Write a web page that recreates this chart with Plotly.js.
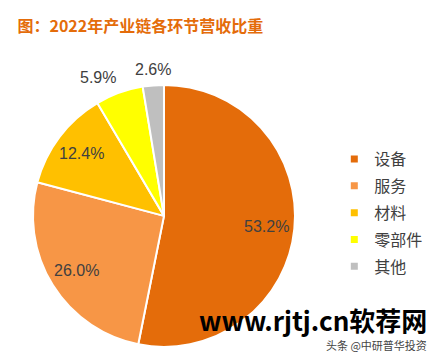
<!DOCTYPE html>
<html>
<head>
<meta charset="utf-8">
<script src="https://cdn.plot.ly/plotly-3.0.1.min.js"></script>
<style>html,body{margin:0;padding:0;background:#fff;}#chart{width:437px;height:358px;}</style>
</head>
<body>
<div id="chart"></div>
<script>
const categories = ["设备", "服务", "材料", "零部件", "其他"];
const shares = [53.2, 26.0, 12.4, 5.9, 2.6];
const colors = ["#E46C0A", "#F79646", "#FFC000", "#FFFF00", "#BFBFBF"];
const labelInside = [true, true, true, false, false];

const W = 437, H = 358;
const domain = {x: [0.0755, 0.675], y: [0.031, 0.763]};
const labelFont = {family: '"Liberation Sans", Arial, sans-serif', size: 16, color: "#404040"};

const pie = {
  type: "pie",
  labels: categories,
  values: shares,
  sort: false,
  direction: "clockwise",
  rotation: 0,
  marker: {colors: colors, line: {color: "#FFFFFF", width: 2}},
  textinfo: "none",
  hoverinfo: "none",
  showlegend: false,
  domain: domain
};

const legendTraces = categories.map((c, i) => ({
  type: "scatter",
  mode: "markers",
  x: [null], y: [null],
  name: c,
  legendgroup: "g" + i,
  marker: {symbol: "square", size: 7, color: colors[i]},
  hoverinfo: "none"
}));

// value labels placed from the data (mid-angle of each slice)
const cx = (domain.x[0] + domain.x[1]) / 2 * W;
const cy = (1 - (domain.y[0] + domain.y[1]) / 2) * H;
const R = Math.min((domain.x[1] - domain.x[0]) * W, (domain.y[1] - domain.y[0]) * H) / 2;
const total = shares.reduce((a, b) => a + b, 0);
let cum = 0;
const valueLabels = shares.map((v, i) => {
  const th = 2 * Math.PI * (cum + v / 2) / total;
  cum += v;
  const s = Math.sin(th), c = Math.cos(th);
  let ann;
  if (labelInside[i]) {
    const r = 0.79 * R;
    ann = {x: (cx + r * s) / W, y: 1 - (cy - r * c) / H, xanchor: "center", yanchor: "middle"};
  } else {
    const r = 1.05 * R;
    ann = {x: (cx + r * s) / W, y: 1 - (cy - r * c) / H,
           xanchor: Math.abs(s) < 0.3 ? "center" : (s < 0 ? "right" : "left"),
           yanchor: c > 0 ? "bottom" : "top"};
  }
  return Object.assign(ann, {text: v.toFixed(1) + "%", xref: "paper", yref: "paper",
    showarrow: false, font: labelFont, borderpad: 0});
});

const layout = {
  width: W, height: H,
  margin: {l: 0, r: 0, t: 0, b: 0},
  paper_bgcolor: "#FFFFFF",
  plot_bgcolor: "#FFFFFF",
  title: {
    text: "<b>图：2022年产业链各环节营收比重</b>",
    font: {family: '"Noto Sans CJK SC", sans-serif', size: 16, color: "#E46C0A"},
    x: 0.04, xanchor: "left", y: 0.925, yanchor: "middle"
  },
  xaxis: {visible: false, range: [0, 1]},
  yaxis: {visible: false, range: [0, 1]},
  showlegend: true,
  legend: {
    x: 0.765, xanchor: "left", y: 0.406, yanchor: "middle",
    font: {family: '"Noto Sans CJK SC", sans-serif', size: 16, color: "#404040"},
    itemwidth: 30, tracegroupgap: 3,
    bgcolor: "rgba(0,0,0,0)"
  },
  annotations: valueLabels.concat([
    {text: "<b>www.rjtj.cn软荐网</b>", xref: "paper", yref: "paper", x: 0.98, y: 0.108, xanchor: "right", yanchor: "middle",
     showarrow: false, font: {family: '"Noto Sans CJK SC", sans-serif', size: 26, color: "#000000"}, borderpad: 0},
    {text: "头条 @中研普华投资", xref: "paper", yref: "paper", x: 0.98, y: 0.035, xanchor: "right", yanchor: "middle",
     showarrow: false, font: {family: '"Noto Sans CJK SC", sans-serif', size: 11, color: "#444444"}, borderpad: 0}
  ])
};

Plotly.newPlot("chart", [pie].concat(legendTraces), layout, {displayModeBar: false, staticPlot: true});
</script>
</body>
</html>
